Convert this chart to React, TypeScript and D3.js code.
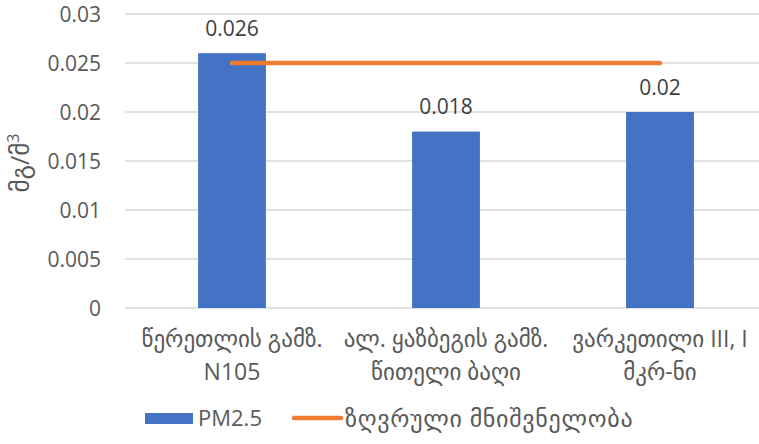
import React from "react";
import * as d3 from "d3";

const categories: string[][] = [
  ["წერეთლის გამზ.", "N105"],
  ["ალ. ყაზბეგის გამზ.", "წითელი ბაღი"],
  ["ვარკეთილი III, I", "მკრ-ნი"],
];
const pm25: number[] = [0.026, 0.018, 0.02];
const limit: number[] = [0.025, 0.025, 0.025];
const valueLabels: string[] = ["0.026", "0.018", "0.02"];
const yTicks: number[] = [0, 0.005, 0.01, 0.015, 0.02, 0.025, 0.03];
const yTickLabels: string[] = ["0", "0.005", "0.01", "0.015", "0.02", "0.025", "0.03"];
const seriesNames: string[] = ["PM2.5", "ზღვრული მნიშვნელობა"];
const yTitleBase = "მგ/მ";
const yTitleSup = "3";

const W = 759;
const H = 444;
const FONT = "'Open Sans', 'DejaVu Sans', sans-serif";
const TEXT = "#595959";

export default function App() {
  const x = d3
    .scaleBand<number>()
    .domain(d3.range(categories.length))
    .range([125, 767])
    .paddingInner(0.683)
    .paddingOuter(0.3415);
  const y = d3.scaleLinear().domain([0, 0.03]).range([308, 14]);
  const cx = (i: number) => (x(i) as number) + x.bandwidth() / 2;
  const line = d3
    .line<number>()
    .x((_, i) => cx(i))
    .y((d) => y(d));

  return (
    <svg
      width={W}
      height={H}
      style={{ position: "absolute", left: 0, top: 0, background: "#fff" }}
      fontFamily={FONT}
    >
      {yTicks.map((t, i) => (
        <g key={i}>
          <line x1={125} x2={767} y1={y(t)} y2={y(t)} stroke="#d9d9d9" strokeWidth={1.3} />
          <text x={101} y={y(t)} dy="0.36em" textAnchor="end" fontSize={21} fill={TEXT}>
            {yTickLabels[i]}
          </text>
        </g>
      ))}
      <text
        transform={`translate(29,163) rotate(-90)`}
        textAnchor="middle"
        fontSize={25}
        fill={TEXT}
      >
        {yTitleBase}
        <tspan fontSize={16} dy={-10}>
          {yTitleSup}
        </tspan>
      </text>
      {pm25.map((v, i) => (
        <rect
          key={i}
          x={x(i)}
          y={y(v)}
          width={x.bandwidth()}
          height={y(0) - y(v)}
          fill="#4472C4"
        />
      ))}
      <path
        d={line(limit) || ""}
        fill="none"
        stroke="#ED7D31"
        strokeWidth={4.5}
        strokeLinecap="round"
      />
      {pm25.map((v, i) => (
        <text
          key={i}
          x={cx(i)}
          y={y(v) - 25}
          dy="0.36em"
          textAnchor="middle"
          fontSize={21}
          fill="#404040"
        >
          {valueLabels[i]}
        </text>
      ))}
      {categories.map((lines, i) => (
        <text key={i} textAnchor="middle" fontSize={23} fill={TEXT}>
          {lines.map((l, j) => (
            <tspan key={j} x={cx(i)} y={339 + j * 33} dy="0.36em">
              {l}
            </tspan>
          ))}
        </text>
      ))}
      <rect x={145} y={413} width={48} height={11} fill="#4472C4" />
      <text x={198} y={418} dy="0.36em" fontSize={22} fill={TEXT}>
        {seriesNames[0]}
      </text>
      <line x1={294} x2={341} y1={418} y2={418} stroke="#ED7D31" strokeWidth={4.5} strokeLinecap="round" />
      <text x={345} y={418} dy="0.36em" fontSize={24} letterSpacing={0.7} fill={TEXT}>
        {seriesNames[1]}
      </text>
    </svg>
  );
}
